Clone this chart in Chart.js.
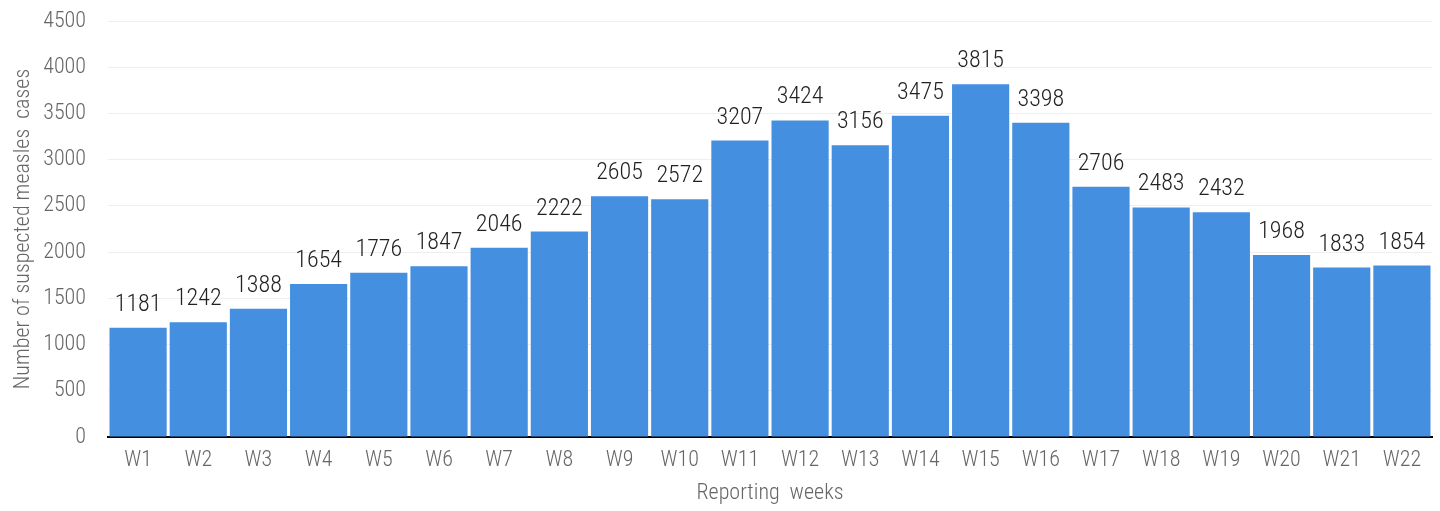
<!DOCTYPE html>
<html>
<head>
<meta charset="utf-8">
<script src="https://cdn.jsdelivr.net/npm/chart.js@4/dist/chart.umd.min.js"></script>
<style>
  html, body { margin: 0; padding: 0; background: #fff; }
  #wrap { width: 1440px; height: 511px; }
</style>
</head>
<body>
<div id="wrap"><canvas id="myChart"></canvas></div>
<script>
const weeks = ['W1', 'W2', 'W3', 'W4', 'W5', 'W6', 'W7', 'W8', 'W9', 'W10', 'W11',
  'W12', 'W13', 'W14', 'W15', 'W16', 'W17', 'W18', 'W19', 'W20', 'W21', 'W22'];
const cases = [1181, 1242, 1388, 1654, 1776, 1847, 2046, 2222, 2605, 2572, 3207,
  3424, 3156, 3475, 3815, 3398, 2706, 2483, 2432, 1968, 1833, 1854];
const yTicks = [0, 500, 1000, 1500, 2000, 2500, 3000, 3500, 4000, 4500];

const fontFamily = '"Roboto Condensed", "Liberation Sans Narrow", "DejaVu Sans Condensed", Roboto, sans-serif';

// draws the value above each bar
const barLabels = {
  id: 'barLabels',
  afterDatasetsDraw: function(chart) {
    const ctx = chart.ctx;
    const meta = chart.getDatasetMeta(0);
    ctx.save();
    ctx.font = '300 24px ' + fontFamily;
    ctx.fillStyle = '#222';
    ctx.textAlign = 'center';
    ctx.textBaseline = 'bottom';
    meta.data.forEach(function(bar, i) {
      ctx.fillText(String(cases[i]), bar.x, bar.y - 11);
    });
    ctx.restore();
  }
};

const app = {
  initChart: function() {
    const thisApp = this;

    thisApp.ctx = document.getElementById('myChart').getContext('2d');
    thisApp.chart = new Chart(thisApp.ctx, {
      type: 'bar',
      data: {
        labels: weeks,
        datasets: [{
          label: 'Suspected measles cases',
          backgroundColor: '#448fe0',
          data: cases,
          barPercentage: 0.95,
          categoryPercentage: 1,
        }]
      },
      options: {
        responsive: true,
        maintainAspectRatio: false,
        animation: false,
        layout: { padding: { top: 21, right: 8, left: 6, bottom: 0 } },
        plugins: {
          legend: { display: false },
          tooltip: { enabled: false },
        },
        scales: {
          x: {
            grid: { display: false, drawTicks: false },
            border: { display: true, color: '#000', width: 2 },
            ticks: { color: '#666', font: { family: fontFamily, size: 22, weight: 300 }, padding: 10 },
            title: {
              display: true, text: 'Reporting  weeks', color: '#666',
              font: { family: fontFamily, size: 22, weight: 300 }, padding: { top: 2 }
            },
            afterFit: function(scale) { scale.height = 74; },
          },
          y: {
            min: 0,
            max: 4500,
            afterBuildTicks: function(scale) {
              scale.ticks = yTicks.map(function(v) { return { value: v }; });
            },
            grid: { color: '#eeeeee', drawTicks: false },
            border: { display: false },
            ticks: {
              color: '#666', font: { family: fontFamily, size: 22, weight: 300 }, padding: 22,
              callback: function(value) { return String(value); },
            },
            title: {
              display: true, text: 'Number of suspected measles  cases', color: '#666',
              font: { family: fontFamily, size: 22, weight: 300 }, padding: { bottom: 2 }
            },
            afterFit: function(scale) {
              scale.width = 102;
              scale.paddingTop = 0;
              scale.paddingBottom = 0;
            },
          }
        }
      },
      plugins: [barLabels],
    });
  },
  init: function() {
    const thisApp = this;

    thisApp.initChart();
  },
};

app.init();
</script>
</body>
</html>
